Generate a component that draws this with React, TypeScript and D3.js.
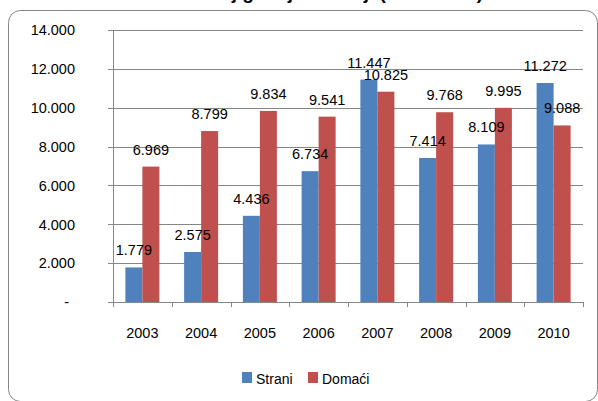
import React from "react";
import * as d3 from "d3";

const years = ["2003", "2004", "2005", "2006", "2007", "2008", "2009", "2010"];
const strani = [1779, 2575, 4436, 6734, 11447, 7414, 8109, 11272];
const domaci = [6969, 8799, 9834, 9541, 10825, 9768, 9995, 9088];
const seriesNames = ["Strani", "Domaći"];
const seriesColors = ["#4F81BD", "#C0504D"];
const yTicks = [0, 2000, 4000, 6000, 8000, 10000, 12000, 14000];
const title = "Broj gostiju u Srbiji (2003-2010)";

const W = 598;
const H = 401;
const FONT = "'Liberation Sans', Arial, sans-serif";

const locale = d3.formatLocale({ decimal: ",", thousands: ".", grouping: [3], currency: ["", ""] });
const fmt = locale.format(",");

export default function App() {
  const left = 113, right = 583, top = 30, bottom = 302;
  const x0 = d3.scaleBand<string>().domain(years).range([left, right]).padding(0);
  const x1 = d3.scaleBand<string>().domain(seriesNames).range([0, x0.bandwidth()]).paddingInner(0).paddingOuter(0.728);
  const y = d3.scaleLinear().domain([0, 14000]).range([bottom, top]);
  const series = [strani, domaci];
  const grid = "#868686";
  const bw = x1.bandwidth();
  const bx = (si: number, i: number) => (x0(years[i]) as number) + (x1(seriesNames[si]) as number);

  return (
    <svg width={W} height={H} style={{ position: "absolute", left: 0, top: 0, display: "block" }}>
      <rect x={0} y={0} width={W} height={H} fill="#fff" />
      <text x={199} y={-1} fontFamily={FONT} fontWeight="bold" fontSize={19} fill="#000">{title}</text>
      <rect x={8.5} y={10.5} width={589} height={391} rx={12} ry={12} fill="none" stroke={grid} strokeWidth={1} />
      {yTicks.map((t) => (
        <g key={t}>
          {t > 0 && <line x1={left} x2={right} y1={Math.round(y(t)) + 0.5} y2={Math.round(y(t)) + 0.5} stroke={grid} />}
          <line x1={left - 5} x2={left} y1={Math.round(y(t)) + 0.5} y2={Math.round(y(t)) + 0.5} stroke={grid} />
          <text x={t === 0 ? 69 : 75} y={y(t)} dy="0.36em" textAnchor="end" fontFamily={FONT} fontSize={14.5} fill="#000">
            {t === 0 ? "-" : fmt(t)}
          </text>
        </g>
      ))}
      <line x1={left + 0.5} x2={left + 0.5} y1={top} y2={bottom} stroke={grid} />
      {series.map((vals, si) =>
        vals.map((v, i) => (
          <rect key={`b${si}-${i}`} x={bx(si, i)} y={y(v)} width={bw} height={bottom - y(v)} fill={seriesColors[si]} />
        ))
      )}
      {series.map((vals, si) =>
        vals.map((v, i) => (
          <text key={`l${si}-${i}`} x={bx(si, i) + bw / 2} y={y(v) - 12} textAnchor="middle" fontFamily={FONT} fontSize={14.5} fill="#000">
            {fmt(v)}
          </text>
        ))
      )}
      <line x1={left} x2={right} y1={bottom + 0.5} y2={bottom + 0.5} stroke={grid} />
      {years.concat(["end"]).map((yr, i) => {
        const xx = Math.round(left + i * x0.step()) + 0.5;
        return <line key={yr} x1={xx} x2={xx} y1={bottom} y2={bottom + 5} stroke={grid} />;
      })}
      {years.map((yr) => (
        <text key={yr} x={(x0(yr) as number) + x0.bandwidth() / 2} y={338} textAnchor="middle" fontFamily={FONT} fontSize={14.5} fill="#000">
          {yr}
        </text>
      ))}
      {seriesNames.map((s, i) => {
        const lx = i === 0 ? 242 : 308;
        return (
          <g key={s}>
            <rect x={lx} y={372} width={10} height={11} fill={seriesColors[i]} />
            <text x={lx + 14} y={384} fontFamily={FONT} fontSize={14} fill="#000">{s}</text>
          </g>
        );
      })}
    </svg>
  );
}
